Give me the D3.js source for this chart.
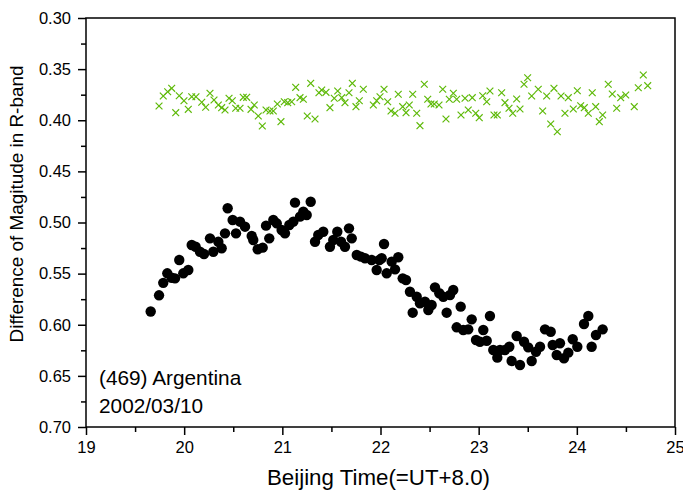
<!DOCTYPE html>
<html><head><meta charset="utf-8">
<script src="https://cdn.jsdelivr.net/npm/d3@7/dist/d3.min.js"></script>
<style>body{margin:0;background:#fff}svg{display:block}text{font-family:"Liberation Sans",Arial,Helvetica,sans-serif}</style>
</head><body><svg id="c" width="683" height="491"></svg>
<script>
const xTicks = [19,20,21,22,23,24,25];
const yTicks = [0.30,0.35,0.40,0.45,0.50,0.55,0.60,0.65,0.70];
const xLabel = "Beijing Time(=UT+8.0)";
const yLabel = "Difference of Magitude in R-band";
const noteName = "(469) Argentina";
const noteDate = "2002/03/10";

const targetTime = [19.659,19.744,19.787,19.828,19.873,19.907,19.950,19.991,20.042,20.077,20.117,20.161,20.202,20.263,20.297,20.348,20.382,20.416,20.443,20.494,20.528,20.569,20.620,20.688,20.704,20.749,20.800,20.834,20.867,20.908,20.943,20.993,21.027,21.071,21.112,21.129,21.180,21.214,21.248,21.289,21.333,21.366,21.417,21.485,21.519,21.560,21.598,21.638,21.679,21.707,21.758,21.801,21.842,21.910,21.961,21.988,22.012,22.036,22.063,22.114,22.148,22.181,22.226,22.260,22.300,22.328,22.369,22.402,22.453,22.487,22.521,22.555,22.599,22.640,22.674,22.708,22.741,22.776,22.817,22.843,22.894,22.929,22.973,23.013,23.047,23.082,23.115,23.149,23.190,23.217,23.268,23.312,23.336,23.387,23.421,23.462,23.505,23.540,23.584,23.625,23.676,23.734,23.754,23.795,23.828,23.869,23.913,23.958,24.005,24.073,24.117,24.151,24.195,24.263];
const targetMag = [0.587,0.5712,0.5590,0.5497,0.5540,0.5546,0.5367,0.5497,0.5465,0.5220,0.5237,0.5286,0.5308,0.5155,0.5286,0.5188,0.5252,0.5106,0.4861,0.4976,0.5106,0.4992,0.5041,0.5132,0.5171,0.5262,0.5246,0.5031,0.5155,0.4976,0.5008,0.5073,0.5106,0.5024,0.4992,0.4806,0.4943,0.4894,0.4927,0.4797,0.5188,0.5122,0.5090,0.5237,0.5171,0.5090,0.5188,0.5237,0.5057,0.5155,0.5318,0.5334,0.5350,0.5367,0.5465,0.5367,0.5350,0.5210,0.5497,0.5383,0.5458,0.5340,0.5546,0.5562,0.5677,0.5882,0.5726,0.5790,0.5775,0.5856,0.5807,0.5634,0.5692,0.5726,0.5882,0.5709,0.5660,0.6025,0.5823,0.6051,0.6045,0.5947,0.6149,0.6166,0.6051,0.6156,0.5914,0.6247,0.6322,0.6247,0.6247,0.6215,0.6355,0.6110,0.6394,0.6166,0.6221,0.6355,0.6264,0.6215,0.6045,0.6068,0.6198,0.6296,0.6181,0.6328,0.6273,0.6142,0.6215,0.5993,0.5914,0.6215,0.6100,0.6045];

const checkTime = [19.744,19.787,19.832,19.873,19.914,19.950,19.998,20.042,20.077,20.120,20.179,20.219,20.263,20.304,20.348,20.382,20.416,20.457,20.490,20.525,20.569,20.602,20.637,20.681,20.714,20.755,20.796,20.834,20.874,20.908,20.949,20.986,21.020,21.055,21.095,21.136,21.180,21.214,21.254,21.289,21.333,21.373,21.401,21.445,21.485,21.529,21.564,21.605,21.638,21.679,21.713,21.750,21.784,21.825,21.927,21.961,21.995,22.036,22.073,22.107,22.148,22.181,22.226,22.260,22.293,22.328,22.369,22.402,22.446,22.481,22.514,22.548,22.596,22.634,22.667,22.701,22.742,22.776,22.820,22.861,22.894,22.935,22.970,23.006,23.041,23.082,23.115,23.156,23.190,23.234,23.268,23.309,23.347,23.387,23.421,23.462,23.499,23.540,23.607,23.652,23.693,23.734,23.767,23.801,23.839,23.879,23.913,23.964,24.005,24.039,24.076,24.117,24.157,24.192,24.229,24.263,24.320,24.361,24.406,24.447,24.498,24.585,24.626,24.677,24.722];
const checkMag = [0.3861,0.3763,0.3721,0.3688,0.3926,0.3760,0.3809,0.3893,0.3770,0.3770,0.3824,0.3873,0.3736,0.3802,0.3851,0.3877,0.3900,0.3785,0.3809,0.3883,0.3883,0.3776,0.3776,0.3893,0.3851,0.3958,0.4056,0.3900,0.3910,0.3910,0.3841,0.4014,0.3819,0.3828,0.3819,0.3678,0.3779,0.3795,0.3958,0.3639,0.3988,0.3731,0.3704,0.3727,0.3877,0.3785,0.3714,0.3779,0.3828,0.3731,0.3639,0.3867,0.3809,0.3697,0.3851,0.3809,0.3770,0.3697,0.3819,0.3910,0.3932,0.3746,0.3867,0.3926,0.3851,0.3746,0.3932,0.4053,0.3648,0.3795,0.3841,0.3841,0.3851,0.3697,0.3988,0.3795,0.3736,0.3795,0.3949,0.3785,0.3900,0.3779,0.3932,0.3975,0.3760,0.3819,0.3714,0.3949,0.3949,0.3731,0.3828,0.3883,0.3932,0.3792,0.3890,0.3648,0.3584,0.3763,0.3697,0.3910,0.3763,0.4037,0.3688,0.4112,0.3763,0.3932,0.3779,0.3890,0.3711,0.3858,0.3877,0.3932,0.3731,0.3867,0.4014,0.3949,0.3648,0.3743,0.3883,0.3779,0.3753,0.3867,0.3682,0.3557,0.3662];

const L = 86, R = 675, T = 18, B = 427;
const svg = d3.select("#c");
const x = d3.scaleLinear().domain([19,25]).range([L,R]);
const y = d3.scaleLinear().domain([0.30,0.70]).range([T,B]);

// frame
svg.append("rect").attr("x",L).attr("y",T).attr("width",R-L).attr("height",B-T)
  .attr("fill","none").attr("stroke","#000").attr("stroke-width",1.5);

// x axis
const xMinor = d3.range(19.5,25,1);
const gx = svg.append("g").attr("transform",`translate(0,${B})`);
gx.call(d3.axisBottom(x).tickValues(xTicks).tickSize(8).tickFormat(d3.format("d")).tickPadding(6));
const gxm = svg.append("g").attr("transform",`translate(0,${B})`);
gxm.call(d3.axisBottom(x).tickValues(xMinor).tickSize(5).tickFormat(""));
[gx,gxm].forEach(g=>{g.select(".domain").remove();g.selectAll("line").attr("stroke","#000").attr("stroke-width",1.5);});
gx.selectAll("text").attr("font-size",16.5).attr("fill","#000").attr("font-family","Liberation Sans, Arial, sans-serif");

// y axis
const yMinor = d3.range(0.325,0.70,0.05);
const gy = svg.append("g").attr("transform",`translate(${L},0)`);
gy.call(d3.axisLeft(y).tickValues(yTicks).tickSize(8).tickFormat(d3.format(".2f")).tickPadding(7));
const gym = svg.append("g").attr("transform",`translate(${L},0)`);
gym.call(d3.axisLeft(y).tickValues(yMinor).tickSize(5).tickFormat(""));
[gy,gym].forEach(g=>{g.select(".domain").remove();g.selectAll("line").attr("stroke","#000").attr("stroke-width",1.5);});
gy.selectAll("text").attr("font-size",16.5).attr("fill","#000").attr("font-family","Liberation Sans, Arial, sans-serif");

// titles
svg.append("text").attr("x",(265+492)/2).attr("y",485).attr("text-anchor","middle")
  .attr("font-size",22.3).text(xLabel);
svg.append("text").attr("transform",`translate(23,204) rotate(-90)`).attr("text-anchor","middle")
  .attr("font-size",18.9).text(yLabel);

// annotation
svg.append("text").attr("x",99).attr("y",385).attr("font-size",20.8).text(noteName);
svg.append("text").attr("x",99).attr("y",413).attr("font-size",20.8).text(noteDate);

// comparison star crosses
const cs = 3.4;
const gc = svg.append("g").attr("stroke","#5fba0a").attr("stroke-width",1.2).attr("fill","none");
gc.selectAll("path").data(checkTime.map((t,i)=>[t,checkMag[i]])).join("path")
  .attr("d",d=>{const px=x(d[0]),py=y(d[1]);return `M${px-cs},${py-cs}L${px+cs},${py+cs}M${px-cs},${py+cs}L${px+cs},${py-cs}`;});

// target dots
svg.append("g").selectAll("circle").data(targetTime.map((t,i)=>[t,targetMag[i]])).join("circle")
  .attr("cx",d=>x(d[0])).attr("cy",d=>y(d[1])).attr("r",5.2).attr("fill","#000");
</script></body></html>
